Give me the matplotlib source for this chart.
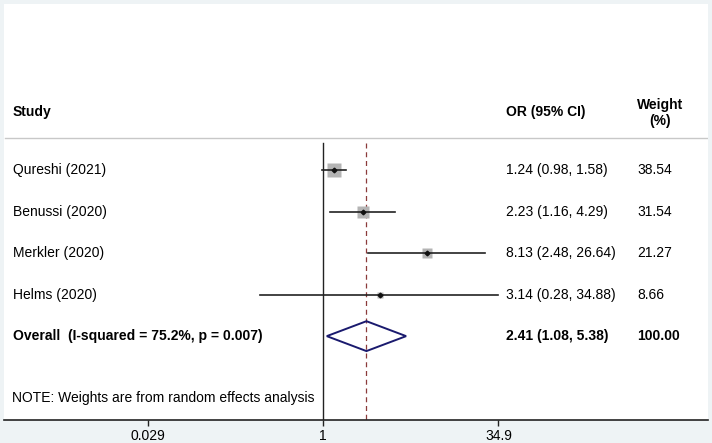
import matplotlib.pyplot as plt
import matplotlib.patches as mpatches
import numpy as np

plt.rcParams['font.family'] = ['Liberation Sans', 'DejaVu Sans']

# Study data
studies = ["Qureshi (2021)", "Benussi (2020)", "Merkler (2020)", "Helms (2020)"]
odds = [1.24, 2.23, 8.13, 3.14]
lower = [0.98, 1.16, 2.48, 0.28]
upper = [1.58, 4.29, 26.64, 34.88]
weights = [38.54, 31.54, 21.27, 8.66]

overall_label = "Overall  (I-squared = 75.2%, p = 0.007)"
overall_or, overall_lo, overall_hi = 2.41, 1.08, 5.38
overall_weight = 100.00

xticks = [0.029, 1, 34.9]
xticklabels = ["0.029", "1", "34.9"]

bg = "#EEF3F5"
fig = plt.figure(figsize=(7.12, 4.43), dpi=100, facecolor=bg)
ax = fig.add_axes([4/712, 23/443, 704/712, 416/443])
ax.set_facecolor("white")
ax.set_xscale("log")
ax.set_xlim(0.001568, 2427)
ax.set_ylim(6.02, -4.0)

for s in ["top", "left", "right"]:
    ax.spines[s].set_visible(False)
ax.spines["bottom"].set_color("#222222")
ax.spines["bottom"].set_linewidth(1.2)
ax.set_yticks([])
ax.set_xticks(xticks)
ax.set_xticklabels(xticklabels, fontsize=10)
ax.xaxis.set_minor_locator(plt.NullLocator())
ax.tick_params(axis="x", length=4, width=1, color="#222222", pad=2.5)

trans = ax.get_yaxis_transform()  # x in axes coords, y in data

# header separator
ax.plot([0.0015, 0.9985], [-0.77, -0.77], transform=trans, color="#C8C8C8", lw=1)

# reference lines
ax.plot([1, 1], [-0.65, 6.02], color="#222222", lw=1)
ax.plot([overall_or, overall_or], [-0.65, 6.02], color="#8B3A3A", lw=0.9,
        ls=(0, (4, 3)))

# studies
ys = np.arange(len(studies))
for y, o, lo, hi, w in zip(ys, odds, lower, upper, weights):
    side = 1.6 * np.sqrt(w)
    ax.plot(o, y, marker="s", ms=side, color="#B4B4B4", mec="none", zorder=2)
    ax.plot([lo, hi], [y, y], color="#222222", lw=1.2, zorder=3)
    ax.plot(o, y, marker="D", ms=2.4, color="#111111", zorder=4)

# overall diamond
yo = len(studies)
h = 0.36
dia = mpatches.Polygon([[overall_lo, yo], [overall_or, yo - h],
                        [overall_hi, yo], [overall_or, yo + h]],
                       closed=True, fill=False, edgecolor="#1A1A6E", lw=1.4, zorder=5)
ax.add_patch(dia)

fs = 10
col_study = (13 - 4)/704
col_or = (506 - 4)/704
col_w = (637 - 4)/704

# headers
ax.text(col_study, -1.4, "Study", transform=trans, fontsize=fs,
        fontweight="bold", va="center")
ax.text(col_or, -1.4, "OR (95% CI)", transform=trans, fontsize=fs,
        fontweight="bold", va="center")
ax.text((660 - 4)/704, -1.38, "Weight\n(%)", transform=trans, fontsize=fs,
        fontweight="bold", va="center", ha="center", multialignment="center",
        linespacing=1.15)

for y, name, o, lo, hi, w in zip(ys, studies, odds, lower, upper, weights):
    ax.text(col_study, y, name, transform=trans, fontsize=fs, va="center")
    ax.text(col_or, y, f"{o:.2f} ({lo:.2f}, {hi:.2f})", transform=trans,
            fontsize=fs, va="center")
    ax.text(col_w, y, f"{w:.2f}", transform=trans, fontsize=fs, va="center")

ax.text(col_study, yo, overall_label, transform=trans, fontsize=fs,
        fontweight="bold", va="center")
ax.text(col_or, yo, f"{overall_or:.2f} ({overall_lo:.2f}, {overall_hi:.2f})",
        transform=trans, fontsize=fs, fontweight="bold", va="center")
ax.text(col_w, yo, f"{overall_weight:.2f}", transform=trans, fontsize=fs,
        fontweight="bold", va="center")

ax.text((12 - 4)/704, 5.5, "NOTE: Weights are from random effects analysis",
        transform=trans, fontsize=fs, va="center")

fig.savefig("out.png", dpi=100, facecolor=bg)
